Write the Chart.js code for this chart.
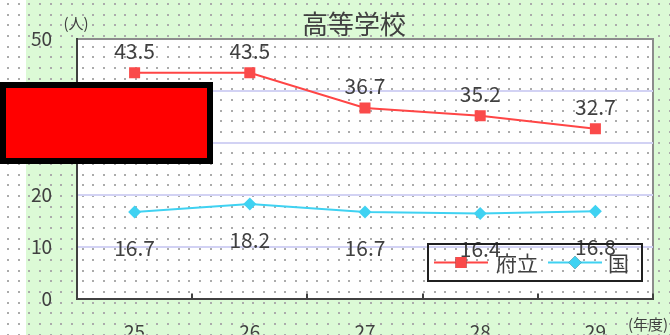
<!DOCTYPE html>
<html>
<head>
<meta charset="utf-8">
<script src="https://cdn.jsdelivr.net/npm/chart.js@4.4.0/dist/chart.umd.min.js"></script>
<style>
html, body { margin: 0; padding: 0; background: #fff; }
#wrap { position: relative; width: 670px; height: 335px; overflow: hidden; }
#block { position: absolute; left: 0; top: 82px; width: 201px; height: 70px; background: #ff0000; border: 6px solid #000; }
</style>
</head>
<body>
<div id="wrap">
  <canvas id="chart" width="670" height="335"></canvas>
  <div id="block"></div>
</div>
<script>
const years = ['25', '26', '27', '28', '29'];
const furitsu = [43.5, 43.5, 36.7, 35.2, 32.7];
const kuni = [16.7, 18.2, 16.7, 16.4, 16.8];
const yTicks = [0, 10, 20, 30, 40, 50];
const chartTitle = '高等学校';

const FONT = '"Noto Sans CJK JP", "Noto Sans", sans-serif';
const TEXT = '#404040';

// dotted paper background, green outer panel, white plot panel
const backdrop = {
  id: 'backdrop',
  beforeDraw(chart) {
    const ctx = chart.ctx, a = chart.chartArea;
    ctx.save();
    ctx.fillStyle = '#fff';
    ctx.fillRect(0, 0, chart.width, chart.height);
    ctx.fillStyle = '#dcfad6';
    ctx.fillRect(26, 0, chart.width - 26, chart.height);
    ctx.fillStyle = '#fff';
    ctx.fillRect(a.left, a.top, a.width, a.height);
    ctx.fillStyle = '#ababab';
    for (let y = 4; y < chart.height; y += 10.67) {
      for (let x = 8; x < chart.width; x += 10.67) {
        ctx.fillRect(Math.round(x) - 1, Math.round(y) - 1, 2, 2);
      }
    }
    // top and right edges of the plot frame
    ctx.strokeStyle = '#8c8c8c';
    ctx.lineWidth = 2;
    ctx.beginPath();
    ctx.moveTo(a.left, a.top);
    ctx.lineTo(a.right, a.top);
    ctx.lineTo(a.right, a.bottom);
    ctx.stroke();
    ctx.restore();
  }
};

// title, value labels, unit captions and the boxed legend
const annotate = {
  id: 'annotate',
  afterDatasetsDraw(chart) {
    const ctx = chart.ctx;
    ctx.save();
    ctx.fillStyle = TEXT;
    ctx.textAlign = 'center';
    ctx.textBaseline = 'middle';

    ctx.font = '26px ' + FONT;
    ctx.fillText(chartTitle, 354, 24);

    ctx.font = '21px ' + FONT;
    chart.data.datasets.forEach((ds, i) => {
      chart.getDatasetMeta(i).data.forEach((pt, j) => {
        ctx.fillText(ds.data[j].toFixed(1), pt.x, pt.y + ds.labelOffset);
      });
    });

    ctx.font = '15px ' + FONT;
    ctx.fillText('(人)', 76, 23);
    ctx.fillText('(年度)', 648, 324);

    // legend
    const lx = 428, ly = 244, lw = 214, lh = 37;
    ctx.strokeStyle = '#202020';
    ctx.lineWidth = 2;
    ctx.strokeRect(lx, ly, lw, lh);
    const cy = ly + lh / 2;
    const items = [
      { ds: chart.data.datasets[0], x0: 434, text: 496 },
      { ds: chart.data.datasets[1], x0: 548, text: 608 }
    ];
    ctx.font = '21px ' + FONT;
    ctx.textAlign = 'left';
    items.forEach(it => {
      ctx.strokeStyle = it.ds.borderColor;
      ctx.beginPath();
      ctx.moveTo(it.x0, cy);
      ctx.lineTo(it.x0 + 54, cy);
      ctx.stroke();
      Chart.helpers.drawPoint(ctx, {
        pointStyle: it.ds.pointStyle,
        radius: it.ds.pointRadius,
        borderWidth: 0
      }, it.x0 + 27, cy);
      ctx.fillStyle = it.ds.pointBackgroundColor;
      ctx.fill();
      ctx.fillStyle = TEXT;
      ctx.fillText(it.ds.label, it.text, cy + 1);
    });
    ctx.restore();
  }
};

new Chart(document.getElementById('chart'), {
  type: 'line',
  data: {
    labels: years,
    datasets: [{
      label: '府立',
      data: furitsu,
      borderColor: '#ff4545',
      borderWidth: 2,
      pointStyle: 'rect',
      pointRadius: 7.8,
      pointBackgroundColor: '#fa4a4a',
      pointBorderWidth: 0,
      labelOffset: -22
    }, {
      label: '国',
      data: kuni,
      borderColor: '#3fd2f2',
      borderWidth: 2,
      pointStyle: 'rectRot',
      pointRadius: 6.5,
      pointBackgroundColor: '#3fd2f2',
      pointBorderWidth: 0,
      labelOffset: 36
    }]
  },
  options: {
    responsive: false,
    animation: false,
    layout: { padding: { left: 26, right: 17, top: 39, bottom: 0 } },
    plugins: {
      legend: { display: false },
      tooltip: { enabled: false },
      title: { display: false }
    },
    scales: {
      y: {
        min: 0,
        max: 50,
        afterFit(s) { s.width = 51; },
        afterBuildTicks(s) { s.ticks = yTicks.map(v => ({ value: v })); },
        ticks: { padding: 25, color: TEXT, font: { size: 19, family: FONT } },
        grid: {
          drawTicks: false,
          lineWidth: 2,
          color: c => c.tick.value === 0 ? 'rgba(0,0,0,0)' : c.tick.value === 50 ? '#8c8c8c' : '#d2d2f4'
        },
        border: { color: '#404040', width: 2 }
      },
      x: {
        offset: true,
        afterFit(s) { s.height = 36; },
        ticks: { padding: 27, color: TEXT, font: { size: 19, family: FONT } },
        grid: { offset: true, drawOnChartArea: false, tickLength: -5, color: '#404040', lineWidth: 2 },
        border: { color: '#404040', width: 2 }
      }
    }
  },
  plugins: [backdrop, annotate]
});
</script>
</body>
</html>
